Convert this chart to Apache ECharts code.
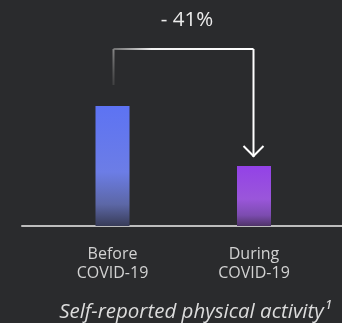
<!DOCTYPE html>
<html>
<head>
<meta charset="utf-8">
<script src="https://cdn.jsdelivr.net/npm/echarts@6/dist/echarts.min.js"></script>
<style>
  html, body { margin: 0; padding: 0; background: #2a2b2d; }
  #chart { width: 342px; height: 323px; }
</style>
</head>
<body>
<div id="chart"></div>
<script>
// Self-reported physical activity, before vs during COVID-19 (indexed)
const categories = ['Before\nCOVID-19', 'During\nCOVID-19'];
const activity = [100, 50];
const changeLabel = '- 41%';
const footnoteTitle = 'Self-reported physical activity\u00B9';

const barColors = [
  ['#5d73f3', '#6c7de6', '#5c67a6', '#383c58'],
  ['#9342e7', '#9a56da', '#7c4cb0', '#4f3468']
];

function barGradient(c) {
  return new echarts.graphic.LinearGradient(0, 0, 0, 1, [
    { offset: 0, color: c[0] },
    { offset: 0.55, color: c[1] },
    { offset: 0.82, color: c[2] },
    { offset: 1, color: c[3] }
  ]);
}

const chart = echarts.init(document.getElementById('chart'), null, { renderer: 'canvas' });

const option = {
  backgroundColor: '#2a2b2d',
  animation: false,
  grid: [
    { left: 41.75, right: 17.25, top: 106, bottom: 97 },
    { left: 22, right: 0, top: 106, bottom: 97 }
  ],
  xAxis: [
    {
      type: 'category',
      gridIndex: 0,
      data: categories,
      axisLine: { show: false },
      axisTick: { show: false },
      axisLabel: {
        color: '#d2d2d2',
        fontFamily: 'Open Sans',
        fontSize: 16,
        lineHeight: 19,
        margin: 19
      }
    },
    {
      type: 'value',
      gridIndex: 1,
      min: 0, max: 1,
      axisLine: { show: true, lineStyle: { color: '#bdbdbd', width: 2 } },
      axisTick: { show: false },
      axisLabel: { show: false },
      splitLine: { show: false }
    }
  ],
  yAxis: [
    { type: 'value', gridIndex: 0, min: 0, max: 100, show: false },
    { type: 'value', gridIndex: 1, min: 0, max: 1, show: false }
  ],
  title: {
    text: footnoteTitle,
    left: 190,
    textAlign: 'center',
    top: 297,
    textStyle: {
      color: '#dcdcdc',
      fontFamily: 'Open Sans',
      fontStyle: 'italic',
      fontWeight: 'normal',
      fontSize: 20.5
    }
  },
  series: [
    {
      type: 'bar',
      xAxisIndex: 0,
      yAxisIndex: 0,
      barWidth: 34,
      data: activity.map((v, i) => ({
        value: v,
        itemStyle: {
          color: barGradient(barColors[i]),
          shadowColor: 'rgba(0,0,0,0.45)',
          shadowBlur: 10,
          shadowOffsetX: 3
        }
      }))
    }
  ]
};

chart.setOption(option);

// Bracket connector from the first bar to the second, with a down arrow
const p0 = chart.convertToPixel({ xAxisIndex: 0, yAxisIndex: 0 }, [0, activity[0]]);
const p1 = chart.convertToPixel({ xAxisIndex: 0, yAxisIndex: 0 }, [1, activity[1]]);
const x0 = Math.round(p0[0]) + 0.5;
const x1 = Math.round(p1[0]) - 0.5;
const yTop = p0[1] - 57;
const yStubEnd = p0[1] - 21;
const yTip = p1[1] - 9;

chart.setOption({
  graphic: [
    {
      type: 'line',
      shape: { x1: x0, y1: yTop, x2: x0, y2: yStubEnd },
      style: {
        lineWidth: 2,
        stroke: new echarts.graphic.LinearGradient(0, 0, 0, 1, [
          { offset: 0, color: 'rgba(150,150,150,0.9)' },
          { offset: 1, color: 'rgba(80,80,80,0.5)' }
        ], false)
      }
    },
    {
      type: 'line',
      shape: { x1: x0, y1: yTop, x2: x1, y2: yTop },
      style: {
        lineWidth: 2,
        stroke: new echarts.graphic.LinearGradient(0, 0, 1, 0, [
          { offset: 0, color: 'rgba(120,120,120,0.8)' },
          { offset: 0.28, color: '#f2f2f2' },
          { offset: 1, color: '#ffffff' }
        ])
      }
    },
    {
      type: 'line',
      shape: { x1: x1, y1: yTop, x2: x1, y2: yTip },
      style: { lineWidth: 2, stroke: '#ffffff' }
    },
    {
      type: 'polyline',
      shape: { points: [[x1 - 10, yTip - 11], [x1, yTip - 1], [x1 + 10, yTip - 11]] },
      style: { lineWidth: 2, stroke: '#ffffff', fill: null }
    },
    {
      type: 'text',
      x: 187,
      y: 20,
      style: {
        text: changeLabel,
        fill: '#ececec',
        font: '20.5px "Open Sans"',
        textAlign: 'center',
        textVerticalAlign: 'middle'
      }
    }
  ]
});
</script>
</body>
</html>
